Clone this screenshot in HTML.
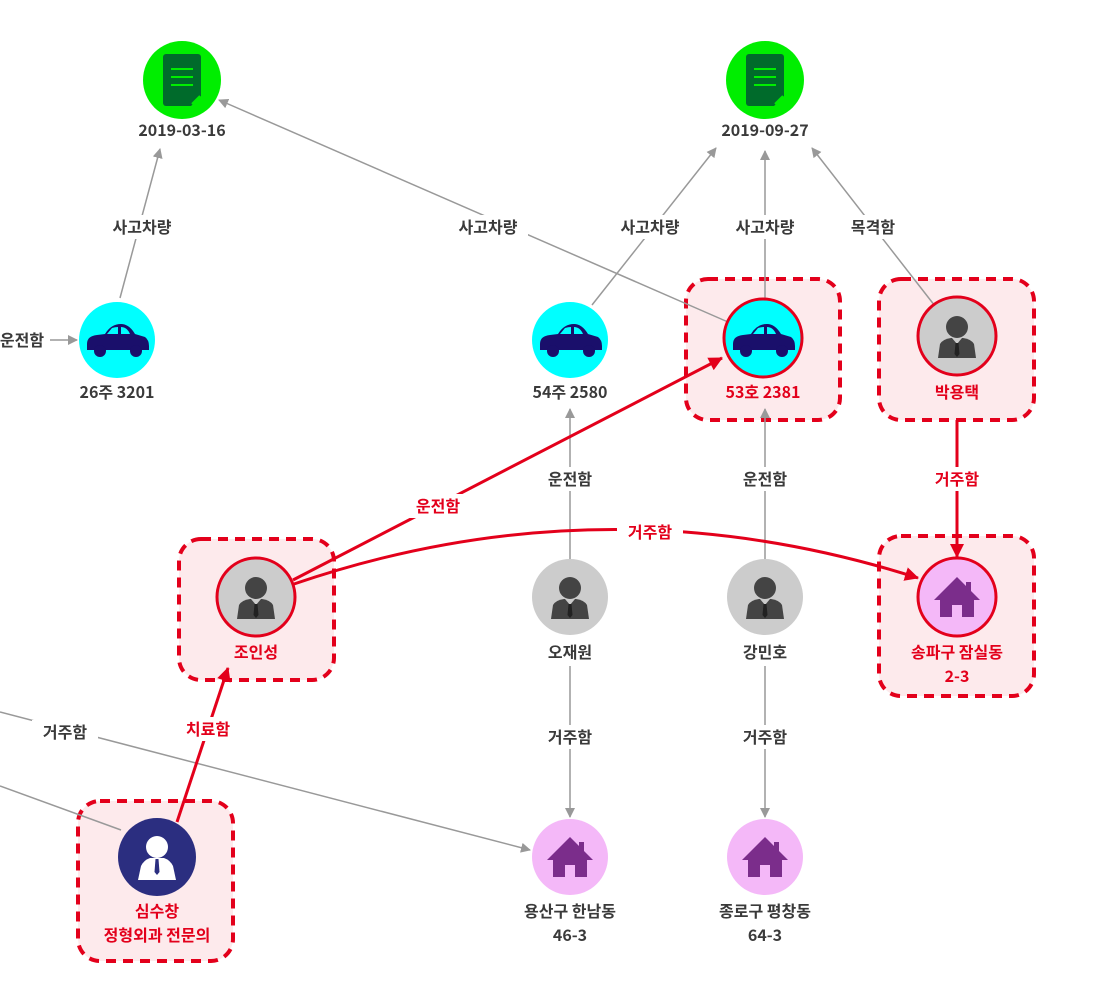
<!DOCTYPE html>
<html><head><meta charset="utf-8"><style>
html,body{margin:0;padding:0;background:#fff;}
svg text{font-family:"Noto Sans CJK KR","Liberation Sans",sans-serif;font-size:16px;font-weight:700;text-anchor:middle;}
.g{fill:#3a3a3a}.r{fill:#e3001b}
.lab{fill:#fff}
</style></head><body>
<svg width="1095" height="1001" viewBox="0 0 1095 1001" xmlns="http://www.w3.org/2000/svg">
<defs>
<marker id="ag" markerWidth="10" markerHeight="10" refX="9" refY="5" orient="auto" markerUnits="userSpaceOnUse"><path d="M0,0 L10,5 L0,10 Z" fill="#999"/></marker>
<marker id="ar" markerWidth="14" markerHeight="14" refX="13" refY="7" orient="auto" markerUnits="userSpaceOnUse"><path d="M0,0 L14,7 L0,14 Z" fill="#e3001b"/></marker>
<g id="doc"><rect x="-19" y="-26" width="38" height="52" rx="3" fill="#006b2b"/><path d="M9,26 L19,16 L19,26 Z" fill="#00ee00"/><path d="M10,24 L18,16" stroke="#00ee00" stroke-width="2"/><path d="M-11,-11h22M-11,-3h22M-11,5h22" stroke="#00ee00" stroke-width="2"/></g>
<g id="car"><path d="M-30,4 Q-30,-4 -20,-5 L-12,-6 Q-6,-16 4,-16 Q12,-16 18,-6 L28,-3 Q32,0 32,6 L32,10 L-30,10 Z" fill="#1a0f6b"/><path d="M-5,-12 Q-2,-13 1,-13 L1,-6 L-10,-6 Z M4,-13 Q10,-13 13,-6 L4,-6 Z" fill="#00ffff"/><circle cx="-17" cy="11" r="6" fill="#1a0f6b"/><circle cx="19" cy="11" r="6" fill="#1a0f6b"/></g>
<g id="per"><circle cx="0" cy="-9" r="11" fill="#444"/><path d="M-19,22 L-17,8 Q-14,3 -6,2 L6,2 Q14,3 17,8 L19,22 Z" fill="#444"/><path d="M-5,2 L0,8 L5,2 Z" fill="#ccc"/><path d="M-1.5,7 L1.5,7 L2.5,18 L0,21 L-2.5,18 Z" fill="#222"/></g>
<g id="house"><path d="M0,-20 L-23,3 L-17,3 L-17,20 L-5,20 L-5,8 L5,8 L5,20 L17,20 L17,3 L23,3 L14,-6 L14,-15 L9,-15 L9,-11 Z" fill="#7b2d8b"/></g>
</defs>
<g fill="#fdeaec" stroke="#e3001b" stroke-width="4" stroke-dasharray="10,7">
<rect x="686" y="279" width="154" height="141" rx="22"/>
<rect x="879" y="279" width="155" height="141" rx="22"/>
<rect x="179" y="539" width="155" height="141" rx="22"/>
<rect x="879" y="536" width="155" height="160" rx="22"/>
<rect x="78" y="801" width="155" height="160" rx="22"/>
</g>
<g stroke="#999" stroke-width="1.5" fill="none">
<path d="M120,298 L160,149" marker-end="url(#ag)"/>
<path d="M40,340 L77,340" marker-end="url(#ag)"/>
<path d="M728,322 L219,100" marker-end="url(#ag)"/>
<path d="M592,305 L716,148" marker-end="url(#ag)"/>
<path d="M765,300 L765,151" marker-end="url(#ag)"/>
<path d="M935,306 L812,148" marker-end="url(#ag)"/>
<path d="M570,560 L570,409" marker-end="url(#ag)"/>
<path d="M765,560 L765,409" marker-end="url(#ag)"/>
<path d="M570,666 L570,817" marker-end="url(#ag)"/>
<path d="M765,666 L765,817" marker-end="url(#ag)"/>
<path d="M0,712 L530,850" marker-end="url(#ag)"/>
<path d="M0,786 L121,830"/>
</g>
<g stroke="#e3001b" stroke-width="3" fill="none">
<path d="M957,420 L957,557" marker-end="url(#ar)"/>
<path d="M293,580 L722,358" marker-end="url(#ar)"/>
<path d="M294,584 Q605,478 918,578" marker-end="url(#ar)"/>
<path d="M177,822 L228,668" marker-end="url(#ar)"/>
</g>
<g>
<rect class="lab" x="102" y="215" width="80" height="24"/><text class="g" x="142" y="233">사고차량</text>
<rect class="lab" x="0" y="328" width="50" height="24"/><text class="g" x="22" y="346">운전함</text>
<rect class="lab" x="448" y="215" width="80" height="24"/><text class="g" x="488" y="233">사고차량</text>
<rect class="lab" x="610" y="215" width="80" height="24"/><text class="g" x="650" y="233">사고차량</text>
<rect class="lab" x="725" y="215" width="80" height="24"/><text class="g" x="765" y="233">사고차량</text>
<rect class="lab" x="840" y="215" width="66" height="24"/><text class="g" x="873" y="233">목격함</text>
<rect class="lab" x="537" y="467" width="66" height="24"/><text class="g" x="570" y="485">운전함</text>
<rect class="lab" x="732" y="467" width="66" height="24"/><text class="g" x="765" y="485">운전함</text>
<rect class="lab" x="924" y="467" width="66" height="24"/><text class="r" x="957" y="485">거주함</text>
<rect class="lab" x="405" y="494" width="66" height="24"/><text class="r" x="438" y="512">운전함</text>
<rect class="lab" x="617" y="520" width="66" height="24"/><text class="r" x="650" y="538">거주함</text>
<rect class="lab" x="537" y="725" width="66" height="24"/><text class="g" x="570" y="743">거주함</text>
<rect class="lab" x="732" y="725" width="66" height="24"/><text class="g" x="765" y="743">거주함</text>
<rect class="lab" x="32" y="720" width="66" height="24"/><text class="g" x="65" y="738">거주함</text>
<rect class="lab" x="175" y="717" width="66" height="24"/><text class="r" x="208" y="735">치료함</text>
</g>
<circle cx="182" cy="80" r="39" fill="#00ee00"/><use href="#doc" x="182" y="80"/>
<text class="g" x="182" y="136">2019-03-16</text>
<circle cx="765" cy="80" r="39" fill="#00ee00"/><use href="#doc" x="765" y="80"/>
<text class="g" x="765" y="136">2019-09-27</text>
<circle cx="117" cy="340" r="38" fill="#00ffff"/><use href="#car" x="117" y="340"/>
<text class="g" x="117" y="398">26주 3201</text>
<circle cx="570" cy="340" r="38" fill="#00ffff"/><use href="#car" x="570" y="340"/>
<text class="g" x="570" y="398">54주 2580</text>
<circle cx="763" cy="338" r="39" fill="#00ffff" stroke="#e3001b" stroke-width="3"/><use href="#car" x="763" y="340"/>
<text class="r" x="763" y="398">53호 2381</text>
<circle cx="957" cy="336" r="39" fill="#ccc" stroke="#e3001b" stroke-width="3"/><use href="#per" x="957" y="336"/>
<text class="r" x="957" y="398">박용택</text>
<circle cx="256" cy="597" r="39" fill="#ccc" stroke="#e3001b" stroke-width="3"/><use href="#per" x="256" y="597"/>
<text class="r" x="256" y="658">조인성</text>
<circle cx="570" cy="597" r="38" fill="#ccc"/><use href="#per" x="570" y="597"/>
<text class="g" x="570" y="658">오재원</text>
<circle cx="765" cy="597" r="38" fill="#ccc"/><use href="#per" x="765" y="597"/>
<text class="g" x="765" y="658">강민호</text>
<circle cx="957" cy="597" r="39" fill="#f4b8f8" stroke="#e3001b" stroke-width="3"/><use href="#house" x="957" y="597"/>
<text class="r" x="957" y="658">송파구 잠실동</text><text class="r" x="957" y="682">2-3</text>
<circle cx="157" cy="857" r="39" fill="#2b2e80"/>
<circle cx="157" cy="847" r="11" fill="#fff"/><path d="M138,880 L141,866 Q144,860 150,858 L164,858 Q170,860 173,866 L176,880 Z" fill="#fff"/><path d="M155.5,859 L158.5,859 L159.5,872 L157,875 L154.5,872 Z" fill="#2b2e80"/>
<text class="r" x="157" y="917">심수창</text><text class="r" x="157" y="941">정형외과 전문의</text>
<circle cx="570" cy="857" r="38" fill="#f4b8f8"/><use href="#house" x="570" y="857"/>
<text class="g" x="570" y="917">용산구 한남동</text><text class="g" x="570" y="941">46-3</text>
<circle cx="765" cy="857" r="38" fill="#f4b8f8"/><use href="#house" x="765" y="857"/>
<text class="g" x="765" y="917">종로구 평창동</text><text class="g" x="765" y="941">64-3</text>
</svg>
</body></html>
